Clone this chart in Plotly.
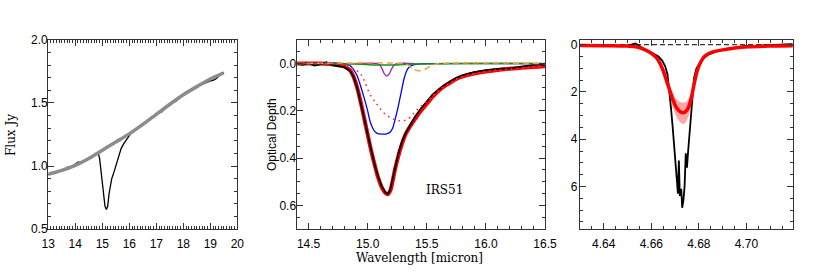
import plotly.graph_objects as go

# ---------------- Panel 1: flux spectrum ----------------
cont_wl = [13.0, 13.5, 14.0, 14.5, 15.0, 15.5, 16.0, 16.5, 17.0, 17.5, 18.0, 18.5, 19.0, 19.5]
cont_flux = [0.935, 0.965, 1.005, 1.06, 1.125, 1.19, 1.255, 1.33, 1.41, 1.49, 1.565, 1.63, 1.69, 1.74]

obs_wl = [13.0, 13.1, 13.2, 13.3, 13.4, 13.5, 13.6, 13.7, 13.8, 13.9, 14.0, 14.1, 14.2, 14.3, 14.4,
          14.5, 14.6, 14.7, 14.8, 14.85, 14.9, 14.95, 15.0, 15.05, 15.1, 15.15, 15.2, 15.25, 15.3,
          15.35, 15.4, 15.5, 15.6, 15.7, 15.8, 15.9, 16.0, 16.1, 16.2, 16.3, 16.4, 16.5, 16.6, 16.7,
          16.8, 16.9, 17.0, 17.1, 17.2, 17.3, 17.4, 17.5, 17.6, 17.7, 17.8, 17.9, 18.0, 18.1, 18.2,
          18.3, 18.4, 18.5, 18.6, 18.7, 18.8, 18.9, 19.0, 19.1, 19.2, 19.3, 19.4, 19.5]
obs_flux = [0.93, 0.945, 0.95, 0.955, 0.96, 0.97, 0.975, 0.99, 0.995, 1.0, 1.015, 1.03, 1.03, 1.035, 1.045,
            1.06, 1.065, 1.08, 1.095, 1.10, 1.06, 0.96, 0.84, 0.74, 0.68, 0.655, 0.68, 0.78, 0.86,
            0.90, 0.93, 1.00, 1.08, 1.14, 1.18, 1.21, 1.25, 1.27, 1.28, 1.30, 1.31, 1.325, 1.34, 1.36,
            1.375, 1.39, 1.415, 1.425, 1.43, 1.45, 1.47, 1.48, 1.50, 1.51, 1.525, 1.545, 1.57, 1.58, 1.59,
            1.60, 1.615, 1.63, 1.64, 1.65, 1.66, 1.67, 1.675, 1.68, 1.69, 1.71, 1.735, 1.74]

# ---------------- Panel 2: CO2 bending mode optical depth ----------------
tau_wl = [14.40, 14.45, 14.50, 14.55, 14.60, 14.65, 14.70, 14.75, 14.80, 14.85, 14.88, 14.91, 14.94,
          14.97, 15.00, 15.03, 15.06, 15.09, 15.12, 15.15, 15.17, 15.19, 15.21, 15.23, 15.26, 15.29,
          15.32, 15.36, 15.40, 15.45, 15.50, 15.55, 15.60, 15.65, 15.70, 15.75, 15.80, 15.85, 15.90,
          16.00, 16.10, 16.20, 16.30, 16.40, 16.45, 16.50]
tau_obs = [0.0, 0.005, -0.002, 0.008, 0.003, -0.006, 0.006, 0.012, 0.015, 0.03, 0.055, 0.10, 0.16,
           0.23, 0.30, 0.37, 0.43, 0.48, 0.52, 0.545, 0.552, 0.535, 0.49, 0.44, 0.38, 0.33,
           0.295, 0.26, 0.225, 0.19, 0.16, 0.13, 0.11, 0.09, 0.075, 0.06, 0.05, 0.042, 0.036,
           0.028, 0.022, 0.02, 0.014, 0.008, 0.002, 0.006]

fit_wl = [14.40, 14.60, 14.70, 14.80, 14.85, 14.88, 14.91, 14.94, 14.97, 15.00, 15.03, 15.06, 15.09,
          15.12, 15.15, 15.17, 15.19, 15.21, 15.23, 15.26, 15.29, 15.32, 15.36, 15.40, 15.45, 15.50,
          15.55, 15.60, 15.65, 15.70, 15.75, 15.80, 15.90, 16.00, 16.10, 16.20, 16.30, 16.40, 16.50]
fit_tau = [0.0, 0.0, 0.003, 0.012, 0.028, 0.055, 0.10, 0.16, 0.23, 0.30, 0.37, 0.43, 0.485,
           0.525, 0.548, 0.553, 0.54, 0.50, 0.45, 0.39, 0.34, 0.30, 0.265, 0.235, 0.20, 0.17,
           0.14, 0.115, 0.095, 0.08, 0.065, 0.055, 0.042, 0.033, 0.027, 0.022, 0.018, 0.014, 0.011]

pure_wl = [14.40, 14.80, 14.85, 14.88, 14.91, 14.94, 14.97, 15.00, 15.02, 15.04, 15.06, 15.08, 15.12,
           15.16, 15.19, 15.21, 15.23, 15.25, 15.28, 15.31, 15.33, 15.35, 15.38, 15.42, 15.50, 16.50]
pure_tau = [0.0, 0.0, 0.008, 0.025, 0.05, 0.095, 0.145, 0.20, 0.244, 0.27, 0.287, 0.295, 0.298,
            0.297, 0.29, 0.275, 0.24, 0.20, 0.13, 0.06, 0.03, 0.015, 0.006, 0.002, 0.0, 0.0]

sharp_wl = [14.90, 15.08, 15.10, 15.12, 15.14, 15.16, 15.18, 15.20, 15.22, 15.24, 15.40]
sharp_tau = [0.0, 0.0, 0.005, 0.02, 0.042, 0.053, 0.045, 0.025, 0.008, 0.001, 0.0]

polar_wl = [14.40, 14.75, 14.82, 14.87, 14.93, 14.97, 15.02, 15.08, 15.13, 15.19, 15.25, 15.29, 15.34,
            15.38, 15.44, 15.50, 15.55, 15.60, 15.70, 15.80, 16.00, 16.20, 16.50]
polar_tau = [0.0, 0.0, 0.008, 0.018, 0.038, 0.07, 0.13, 0.173, 0.205, 0.228, 0.24, 0.242, 0.235,
             0.215, 0.185, 0.16, 0.135, 0.113, 0.08, 0.055, 0.033, 0.022, 0.011]

co_wl = [14.40, 15.30, 15.34, 15.37, 15.40, 15.44, 15.48, 15.52, 15.56, 15.60, 16.50]
co_tau = [0.0, 0.0, 0.005, 0.018, 0.027, 0.03, 0.025, 0.014, 0.005, 0.0, 0.0]

dilute_wl = [14.40, 14.90, 15.10, 15.20, 15.40, 16.50]
dilute_tau = [0.0, 0.002, 0.006, 0.006, 0.002, 0.0]

# ---------------- Panel 3: CO ice optical depth ----------------
co3_wl = [4.630, 4.633, 4.636, 4.639, 4.642, 4.645, 4.648, 4.651, 4.6533, 4.655, 4.657, 4.659, 4.661,
          4.663, 4.6645, 4.6658, 4.6668, 4.6676, 4.6683, 4.669, 4.6697, 4.6702, 4.6708, 4.6712,
          4.6716, 4.672, 4.6726, 4.673, 4.6735, 4.674, 4.6745, 4.675, 4.6755, 4.676, 4.6767, 4.6774,
          4.678, 4.679, 4.6805, 4.682, 4.684, 4.688, 4.692, 4.696, 4.700, 4.705, 4.710, 4.715, 4.719, 4.720]
co3_tau = [0.05, 0.06, 0.04, 0.06, 0.05, 0.06, 0.05, 0.02, -0.05, 0.05, 0.18, 0.27, 0.38,
           0.5, 0.66, 0.9, 1.25, 1.9, 2.7, 3.5, 4.5, 4.8, 5.8, 6.3,
           4.9, 6.4, 6.1, 6.9, 6.6, 6.0, 4.6, 5.2, 4.5, 3.9, 3.2, 2.2,
           1.4, 1.0, 0.75, 0.58, 0.42, 0.26, 0.18, 0.1, 0.05, 0.04, 0.03, 0.01, -0.02, 0.02]

co3_fit_wl = [4.630, 4.640, 4.650, 4.654, 4.657, 4.660, 4.6627, 4.6648, 4.667, 4.669, 4.671, 4.6735,
              4.6753, 4.6767, 4.678, 4.6795, 4.681, 4.6823, 4.685, 4.6894, 4.695, 4.7007, 4.709, 4.720]
co3_fit = [0.03, 0.04, 0.06, 0.1, 0.2, 0.37, 0.62, 1.05, 1.7, 2.3, 2.72, 2.88,
           2.72, 2.3, 1.68, 1.05, 0.7, 0.5, 0.33, 0.23, 0.14, 0.09, 0.06, 0.04]
co3_fit_hi = [0.03, 0.04, 0.06, 0.1, 0.2, 0.38, 0.66, 1.14, 1.88, 2.65, 3.12, 3.36,
              3.12, 2.65, 1.85, 1.12, 0.73, 0.51, 0.33, 0.23, 0.14, 0.09, 0.06, 0.04]
co3_fit_lo = [0.03, 0.04, 0.06, 0.1, 0.2, 0.36, 0.59, 0.98, 1.55, 2.0, 2.35, 2.45,
              2.35, 2.0, 1.55, 0.98, 0.67, 0.49, 0.33, 0.23, 0.14, 0.09, 0.06, 0.04]

zero_wl = [4.630, 4.720]
zero_tau = [0.0, 0.0]

label_text = "IRS51"

fig = go.Figure()

# panel 1
fig.add_trace(go.Scatter(x=obs_wl, y=obs_flux, mode="lines", line=dict(color="black", width=1.3),
                         xaxis="x", yaxis="y", showlegend=False))
fig.add_trace(go.Scatter(x=cont_wl, y=cont_flux, mode="lines", line=dict(color="#8c8c8c", width=3.5, shape="spline"),
                         xaxis="x", yaxis="y", showlegend=False))

# panel 2
fig.add_trace(go.Scatter(x=fit_wl, y=fit_tau, mode="lines", line=dict(color="#ff0000", width=4, shape="spline"),
                         xaxis="x2", yaxis="y2", showlegend=False))
fig.add_trace(go.Scatter(x=tau_wl, y=tau_obs, mode="lines", line=dict(color="black", width=1.8),
                         xaxis="x2", yaxis="y2", showlegend=False))
fig.add_trace(go.Scatter(x=pure_wl, y=pure_tau, mode="lines", line=dict(color="#0000ff", width=1.3, shape="spline"),
                         xaxis="x2", yaxis="y2", showlegend=False))
fig.add_trace(go.Scatter(x=sharp_wl, y=sharp_tau, mode="lines", line=dict(color="#9a20c8", width=1.3, shape="spline"),
                         xaxis="x2", yaxis="y2", showlegend=False))
fig.add_trace(go.Scatter(x=dilute_wl, y=dilute_tau, mode="lines", line=dict(color="#1a8f1a", width=1.5, shape="spline"),
                         xaxis="x2", yaxis="y2", showlegend=False))
fig.add_trace(go.Scatter(x=co_wl, y=co_tau, mode="lines", line=dict(color="#f5a040", width=1.5, dash="6px,4px", shape="spline"),
                         xaxis="x2", yaxis="y2", showlegend=False))
fig.add_trace(go.Scatter(x=polar_wl, y=polar_tau, mode="lines", line=dict(color="#ff3030", width=1.6, dash="1.6px,4px", shape="spline"),
                         xaxis="x2", yaxis="y2", showlegend=False))

# panel 3
fig.add_trace(go.Scatter(x=zero_wl, y=zero_tau, mode="lines", line=dict(color="black", width=1, dash="5px,3px"),
                         xaxis="x3", yaxis="y3", showlegend=False))
fig.add_trace(go.Scatter(x=co3_wl, y=co3_tau, mode="lines", line=dict(color="black", width=1.8),
                         xaxis="x3", yaxis="y3", showlegend=False))
fig.add_trace(go.Scatter(x=co3_fit_wl, y=co3_fit_lo, mode="lines", line=dict(width=0, shape="spline"),
                         xaxis="x3", yaxis="y3", showlegend=False, hoverinfo="skip"))
fig.add_trace(go.Scatter(x=co3_fit_wl, y=co3_fit_hi, mode="lines", line=dict(width=0, shape="spline"),
                         fill="tonexty", fillcolor="rgba(255,80,80,0.5)",
                         xaxis="x3", yaxis="y3", showlegend=False, hoverinfo="skip"))
fig.add_trace(go.Scatter(x=co3_fit_wl, y=co3_fit, mode="lines", line=dict(color="#ff0000", width=3.5, shape="spline"),
                         xaxis="x3", yaxis="y3", showlegend=False))

tickfont = dict(family="Liberation Sans, Arial, sans-serif", size=12, color="black")
ydom = [0.158, 0.853]


def ax(domain, rng, dtick, minor_dtick, anchor, standoff):
    return dict(domain=domain, range=rng, dtick=dtick, tick0=0, showline=True, linecolor="#333333", linewidth=1.4,
                mirror="ticks", ticks="inside", ticklen=6, tickwidth=1, tickcolor="#333333",
                minor=dict(ticks="inside", ticklen=3, dtick=minor_dtick, tickcolor="#333333", tickwidth=1),
                showgrid=False, zeroline=False, tickfont=tickfont, anchor=anchor,
                ticklabelstandoff=standoff, automargin=False)


fig.update_layout(
    width=817, height=272, margin=dict(l=0, r=0, t=0, b=0),
    paper_bgcolor="white", plot_bgcolor="white",
    xaxis=ax([0.0591, 0.2905], [13, 20], 1, 0.1, "y", 3),
    yaxis=ax(ydom, [0.5, 2.0], 0.5, 0.1, "x", -3),
    xaxis2=ax([0.3632, 0.6671], [14.4, 16.5], 0.5, 0.1, "y2", 3),
    yaxis2=ax(ydom, [0.7, -0.1], 0.2, 0.05, "x2", -3),
    xaxis3=ax([0.7099, 0.9703], [4.63, 4.7195], 0.02, 0.005, "y3", 3),
    yaxis3=ax(ydom, [7.8, -0.2], 2, 0.5, "x3", -1),
)
fig.layout.xaxis.tickformat = "d"
fig.layout.yaxis.tickformat = ".1f"
fig.layout.xaxis2.tickformat = ".1f"
fig.layout.yaxis2.tickformat = ".1f"
fig.layout.xaxis3.tickformat = ".2f"
fig.layout.yaxis3.tickformat = "d"

serif = dict(family="DejaVu Serif, serif", size=12, color="black")
fig.add_annotation(text="Flux Jy", x=0.0135, y=0.5037, xref="paper", yref="paper", textangle=-90,
                   showarrow=False, font=serif, xanchor="center", yanchor="middle")
fig.add_annotation(text="Optical Depth", x=0.333, y=0.5037, xref="paper", yref="paper", textangle=-90,
                   showarrow=False, font=dict(family="Liberation Sans, Arial, sans-serif", size=12, color="black"),
                   xanchor="center", yanchor="middle")
fig.add_annotation(text="Wavelength [micron]", x=0.514, y=0.0515, xref="paper", yref="paper",
                   showarrow=False, font=serif, xanchor="center", yanchor="middle")
fig.add_annotation(text=label_text, x=15.646, y=0.535, xref="x2", yref="y2",
                   showarrow=False, font=serif, xanchor="center", yanchor="middle")

fig.write_html("out.html", config={"displayModeBar": False},
               post_script="document.body.style.margin='0px';document.body.style.padding='0px';")
